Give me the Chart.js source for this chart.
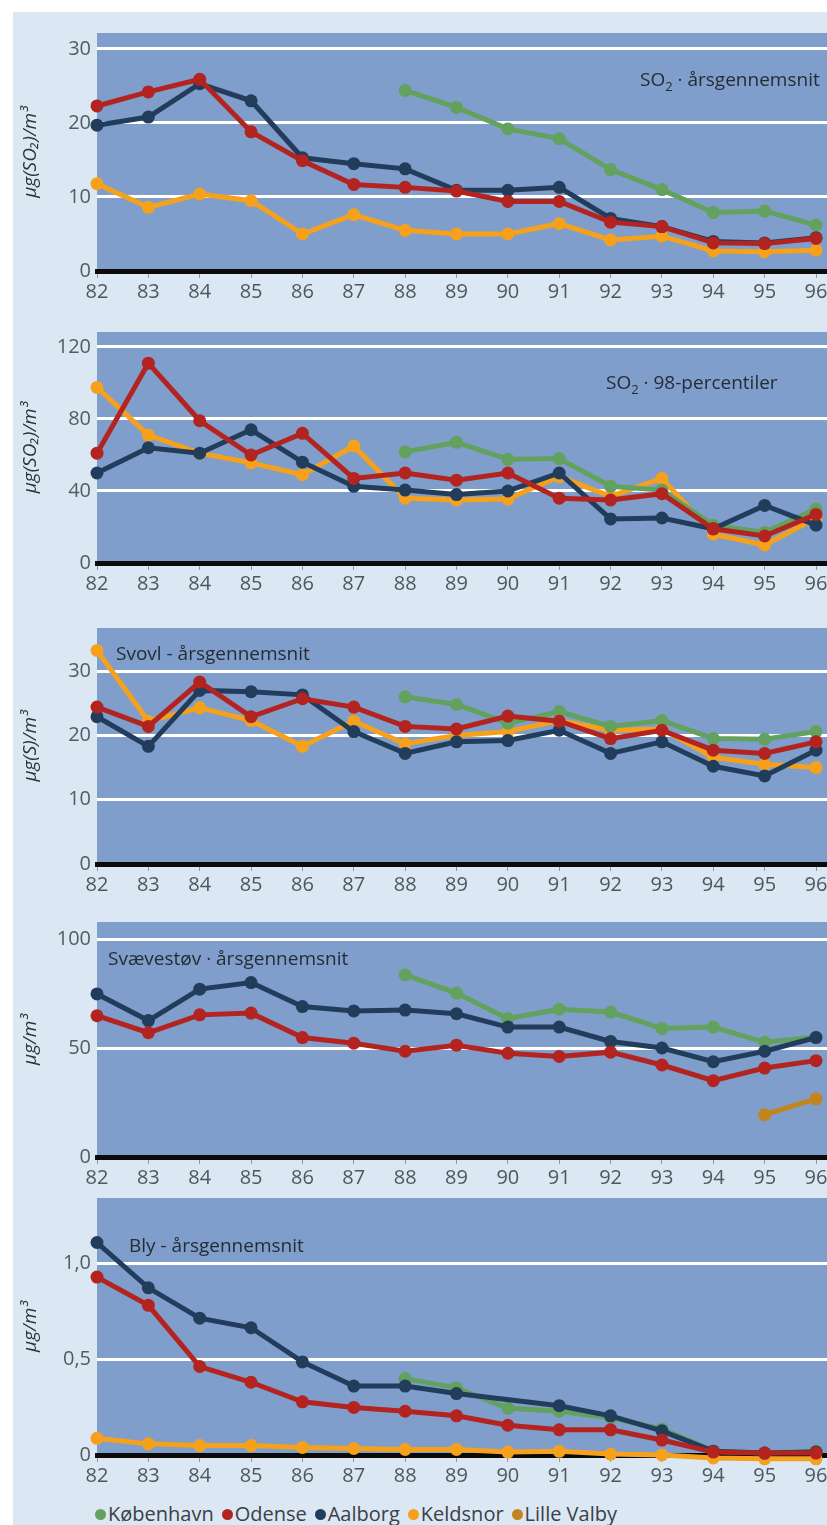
<!DOCTYPE html>
<html lang="da">
<head>
<meta charset="utf-8">
<title>Luftkvalitet 1982-96</title>
<script src="https://cdn.jsdelivr.net/npm/chart.js@4/dist/chart.umd.min.js"></script>
<style>
  html, body { margin: 0; padding: 0; width: 827px; height: 1525px; overflow: hidden; background: #ffffff; }
  #sheet { position: absolute; left: 13px; top: 12px; width: 814px; height: 1513px; background: #dbe7f2; }
  .panel { position: absolute; left: 0; }
  .panel canvas { display: block; }
  #legend { position: absolute; left: 95px; top: 1502px; display: flex; align-items: center;
            font: 20px "Open Sans", "Noto Sans", sans-serif; color: #3a4047; line-height: 24px; white-space: nowrap; }
  #legend span.item { display: inline-flex; align-items: center; margin-right: 8px; }
  #legend span.dot { width: 11px; height: 11px; border-radius: 50%; margin-right: 2px; display: inline-block; }
</style>
</head>
<body>
<div id="sheet"></div>
<div class="panel" id="p1"><canvas id="c1"></canvas></div>
<div class="panel" id="p2"><canvas id="c2"></canvas></div>
<div class="panel" id="p3"><canvas id="c3"></canvas></div>
<div class="panel" id="p4"><canvas id="c4"></canvas></div>
<div class="panel" id="p5"><canvas id="c5"></canvas></div>
<div id="legend"></div>

<script>
// Years on the x axis (19xx)
const years = [82, 83, 84, 85, 86, 87, 88, 89, 90, 91, 92, 93, 94, 95, 96];

// Station names
const stations = ['København', 'Odense', 'Aalborg', 'Keldsnor', 'Lille Valby'];

// SO2 – annual mean, µg(SO2)/m3
const so2MeanKobenhavn = [null, null, null, null, null, null, 24.4, 22.1, 19.2, 17.9, 13.7, 11.0, 7.9, 8.1, 6.2];
const so2MeanOdense    = [22.3, 24.2, 25.9, 18.8, 14.9, 11.7, 11.3, 10.8, 9.4, 9.4, 6.6, 6.0, 3.8, 3.7, 4.4];
const so2MeanAalborg   = [19.7, 20.8, 25.3, 23.0, 15.3, 14.5, 13.8, 10.9, 10.9, 11.3, 7.1, 6.0, 4.0, 3.8, 4.5];
const so2MeanKeldsnor  = [11.8, 8.6, 10.4, 9.5, 5.0, 7.6, 5.5, 5.0, 5.0, 6.4, 4.2, 4.7, 2.7, 2.6, 2.8];

// SO2 – 98th percentile, µg(SO2)/m3
const so2P98Kobenhavn = [null, null, null, null, null, null, 61.7, 67, 57.6, 58, 42.6, 40.5, 21, 17, 30];
const so2P98Odense    = [61, 111, 79, 60, 72, 47, 50, 46, 50, 36, 35, 38.5, 19, 15, 27];
const so2P98Aalborg   = [50, 64, 61, 74, 56, 42.6, 40.5, 38, 40, 50, 24.5, 25, 19, 32, 21];
const so2P98Keldsnor  = [97.5, 71, 61, 55.6, 49, 65, 36, 35, 35.5, 48, 37, 47, 16, 10, 25];

// Sulphur – annual mean, µg(S)/m3
const sulphurKobenhavn = [null, null, null, null, null, null, 26, 24.8, 21.9, 23.7, 21.4, 22.3, 19.5, 19.4, 20.6];
const sulphurOdense    = [24.4, 21.4, 28.3, 22.9, 25.7, 24.4, 21.4, 21, 23, 22.2, 19.5, 20.8, 17.7, 17.2, 19];
const sulphurAalborg   = [22.9, 18.3, 27, 26.8, 26.3, 20.6, 17.2, 19, 19.2, 20.8, 17.2, 19, 15.2, 13.7, 17.7];
const sulphurKeldsnor  = [33.2, 22.2, 24.3, 22.3, 18.3, 22.2, 18.7, 20, 20.6, 22.3, 20.8, 21, 16.6, 15.5, 15];

// Suspended particulates – annual mean, µg/m3
const dustKobenhavn  = [null, null, null, null, null, null, 83.5, 75.2, 63.5, 67.8, 66.5, 59, 59.6, 52.6, 55];
const dustOdense     = [64.8, 57, 65.2, 66, 54.8, 52.2, 48.5, 51.3, 47.6, 46.1, 48.1, 42.2, 35, 40.8, 44.2];
const dustAalborg    = [74.8, 62.6, 77, 80, 69, 67, 67.4, 65.7, 59.6, 59.6, 53, 50, 43.7, 48.5, 54.8];
const dustLilleValby = [null, null, null, null, null, null, null, null, null, null, null, null, null, 19.4, 26.7];

// Lead – annual mean, µg/m3
const leadKobenhavn = [null, null, null, null, null, null, 0.398, 0.35, 0.243, 0.228, 0.194, 0.136, 0.02, 0.01, 0.02];
const leadOdense    = [0.927, 0.78, 0.461, 0.379, 0.277, 0.248, 0.228, 0.204, 0.155, 0.131, 0.131, 0.078, 0.015, 0.01, 0.01];
const leadAalborg   = [1.107, 0.871, 0.713, 0.663, 0.485, 0.359, 0.359, 0.32, null, 0.257, 0.204, 0.126, 0.02, 0.01, 0.015];
const leadKeldsnor  = [0.087, 0.058, 0.049, 0.049, 0.039, 0.034, 0.029, 0.029, 0.015, 0.019, 0.005, 0, -0.015, -0.02, -0.02];

// ---------------------------------------------------------------------------
const FONT = '"Open Sans", "Noto Sans", "DejaVu Sans", sans-serif';
const PLOT_BG = '#7f9ecb';
const stationColor = {
  'København': '#62a25e',
  'Odense': '#b3231f',
  'Aalborg': '#223d5b',
  'Keldsnor': '#f5a11c',
  'Lille Valby': '#c2851d'
};
const stackOrder = { 'Odense': 0, 'Aalborg': 1, 'København': 2, 'Keldsnor': 3, 'Lille Valby': 4 };

// Canvas geometry shared by all panels
const CANVAS_W = 870;
const PAD_TOP = 20;
const PAD_RIGHT = 20;
const Y_AXIS_W = 97;
const X_AXIS_H = 34;
const X_FIRST_PX = 97, X_LAST_PX = 816;           // where 82 and 96 fall
const PX_PER_YEAR = (X_LAST_PX - X_FIRST_PX) / (years[years.length - 1] - years[0]);
const X_MAX = years[0] + (CANVAS_W - PAD_RIGHT - Y_AXIS_W) / PX_PER_YEAR;

// Fill the plot area
const plotBackground = {
  id: 'plotBackground',
  beforeDraw(chart) {
    const { ctx, chartArea: a } = chart;
    ctx.save();
    ctx.fillStyle = PLOT_BG;
    ctx.fillRect(a.left, a.top, a.right - a.left, a.bottom - a.top);
    ctx.restore();
  }
};

// Panel caption inside the plot, with optional subscript pieces
const panelCaption = {
  id: 'panelCaption',
  beforeDatasetsDraw(chart, args, opts) {
    if (!opts || !opts.parts) return;
    const ctx = chart.ctx;
    ctx.save();
    ctx.fillStyle = opts.color || '#262c33';
    ctx.textBaseline = 'alphabetic';
    let x = opts.x;
    for (const p of opts.parts) {
      ctx.font = (p.sub ? '13px ' : '19px ') + FONT;
      ctx.fillText(p.t, x, opts.y + (p.sub ? 5 : 0));
      x += ctx.measureText(p.t).width;
    }
    ctx.restore();
  }
};

function buildPanel(canvasId, wrapId, cfg) {
  const canvasTop = cfg.top - PAD_TOP;
  const height = PAD_TOP + (cfg.base - cfg.top) + X_AXIS_H;
  const wrap = document.getElementById(wrapId);
  wrap.style.top = canvasTop + 'px';
  const canvas = document.getElementById(canvasId);
  canvas.width = CANVAS_W;
  canvas.height = height;
  canvas.style.width = CANVAS_W + 'px';
  canvas.style.height = height + 'px';

  const datasets = cfg.series.map(([name, values]) => ({
    label: name,
    data: years.map((yr, i) => ({ x: yr, y: values[i] })),
    borderColor: stationColor[name],
    backgroundColor: stationColor[name],
    pointBackgroundColor: stationColor[name],
    pointBorderWidth: 0,
    pointRadius: 6.5,
    borderWidth: 5,
    tension: 0,
    spanGaps: true,
    clip: false,
    order: stackOrder[name]
  }));

  return new Chart(canvas, {
    type: 'line',
    data: { datasets },
    plugins: [plotBackground, panelCaption],
    options: {
      responsive: false,
      animation: false,
      events: [],
      layout: { padding: { top: PAD_TOP, right: PAD_RIGHT, left: 0, bottom: 0 } },
      plugins: {
        legend: { display: false },
        tooltip: { enabled: false },
        panelCaption: {
          parts: cfg.caption.parts,
          x: cfg.caption.x,
          y: cfg.caption.y - canvasTop
        }
      },
      scales: {
        x: {
          type: 'linear',
          min: years[0],
          max: X_MAX,
          afterFit(s) { s.height = X_AXIS_H; },
          afterBuildTicks(s) { s.ticks = years.map(v => ({ value: v })); },
          ticks: {
            stepSize: 1,
            includeBounds: false,
            padding: 2,
            color: '#4e5760',
            font: { family: FONT, size: 20 },
            maxRotation: 0,
            autoSkip: false,
            callback: v => String(v)
          },
          grid: { display: true, drawOnChartArea: false, drawTicks: true, tickLength: 7, color: '#8d99a6', tickColor: '#8d99a6', tickWidth: 1 },
          border: { display: true, color: '#0b0b0c', width: 5 }
        },
        y: {
          type: 'linear',
          min: 0,
          max: cfg.yMax,
          afterFit(s) { s.width = Y_AXIS_W; },
          afterBuildTicks(s) { s.ticks = cfg.yTicks.map(v => ({ value: v })); },
          ticks: {
            includeBounds: false,
            padding: 6,
            color: '#535c65',
            font: { family: FONT, size: 20 },
            callback: cfg.yFormat
          },
          grid: {
            drawTicks: false,
            lineWidth: 3,
            color: c => (c.tick && c.tick.value === 0) ? 'rgba(0,0,0,0)' : '#ffffff'
          },
          border: { display: false },
          title: {
            display: true,
            text: cfg.yTitle,
            color: '#2d3339',
            font: { family: FONT, size: 19, style: 'italic', lineHeight: 1.2 },
            padding: { top: 19, bottom: 0 }
          }
        }
      }
    }
  });
}

const intFmt = v => String(v);
const commaFmt = v => (v === 0 ? '0' : v.toFixed(1).replace('.', ','));

buildPanel('c1', 'p1', {
  top: 33, base: 271, yMax: 32.16, yTicks: [0, 10, 20, 30], yFormat: intFmt,
  yTitle: 'µg(SO₂)/m³',
  caption: { parts: [{ t: 'SO' }, { t: '2', sub: true }, { t: ' · årsgennemsnit' }], x: 640, y: 86 },
  series: [['København', so2MeanKobenhavn], ['Odense', so2MeanOdense], ['Aalborg', so2MeanAalborg], ['Keldsnor', so2MeanKeldsnor]]
});

buildPanel('c2', 'p2', {
  top: 332, base: 563, yMax: 128.3, yTicks: [0, 40, 80, 120], yFormat: intFmt,
  yTitle: 'µg(SO₂)/m³',
  caption: { parts: [{ t: 'SO' }, { t: '2', sub: true }, { t: ' · 98-percentiler' }], x: 606, y: 389 },
  series: [['København', so2P98Kobenhavn], ['Odense', so2P98Odense], ['Aalborg', so2P98Aalborg], ['Keldsnor', so2P98Keldsnor]]
});

buildPanel('c3', 'p3', {
  top: 628, base: 864, yMax: 36.7, yTicks: [0, 10, 20, 30], yFormat: intFmt,
  yTitle: 'µg(S)/m³',
  caption: { parts: [{ t: 'Svovl - årsgennemsnit' }], x: 116, y: 660 },
  series: [['København', sulphurKobenhavn], ['Odense', sulphurOdense], ['Aalborg', sulphurAalborg], ['Keldsnor', sulphurKeldsnor]]
});

buildPanel('c4', 'p4', {
  top: 922, base: 1157, yMax: 107.8, yTicks: [0, 50, 100], yFormat: intFmt,
  yTitle: 'µg/m³',
  caption: { parts: [{ t: 'Svævestøv · årsgennemsnit' }], x: 108, y: 965 },
  series: [['København', dustKobenhavn], ['Odense', dustOdense], ['Aalborg', dustAalborg], ['Lille Valby', dustLilleValby]]
});

buildPanel('c5', 'p5', {
  top: 1198, base: 1455, yMax: 1.339, yTicks: [0, 0.5, 1.0], yFormat: commaFmt,
  yTitle: 'µg/m³',
  caption: { parts: [{ t: 'Bly - årsgennemsnit' }], x: 129, y: 1252 },
  series: [['København', leadKobenhavn], ['Odense', leadOdense], ['Aalborg', leadAalborg], ['Keldsnor', leadKeldsnor]]
});

// Shared station key under the last panel
const legend = document.getElementById('legend');
stations.forEach(name => {
  const item = document.createElement('span');
  item.className = 'item';
  const dot = document.createElement('span');
  dot.className = 'dot';
  dot.style.background = stationColor[name];
  item.appendChild(dot);
  item.appendChild(document.createTextNode(name));
  legend.appendChild(item);
});
</script>
</body>
</html>
